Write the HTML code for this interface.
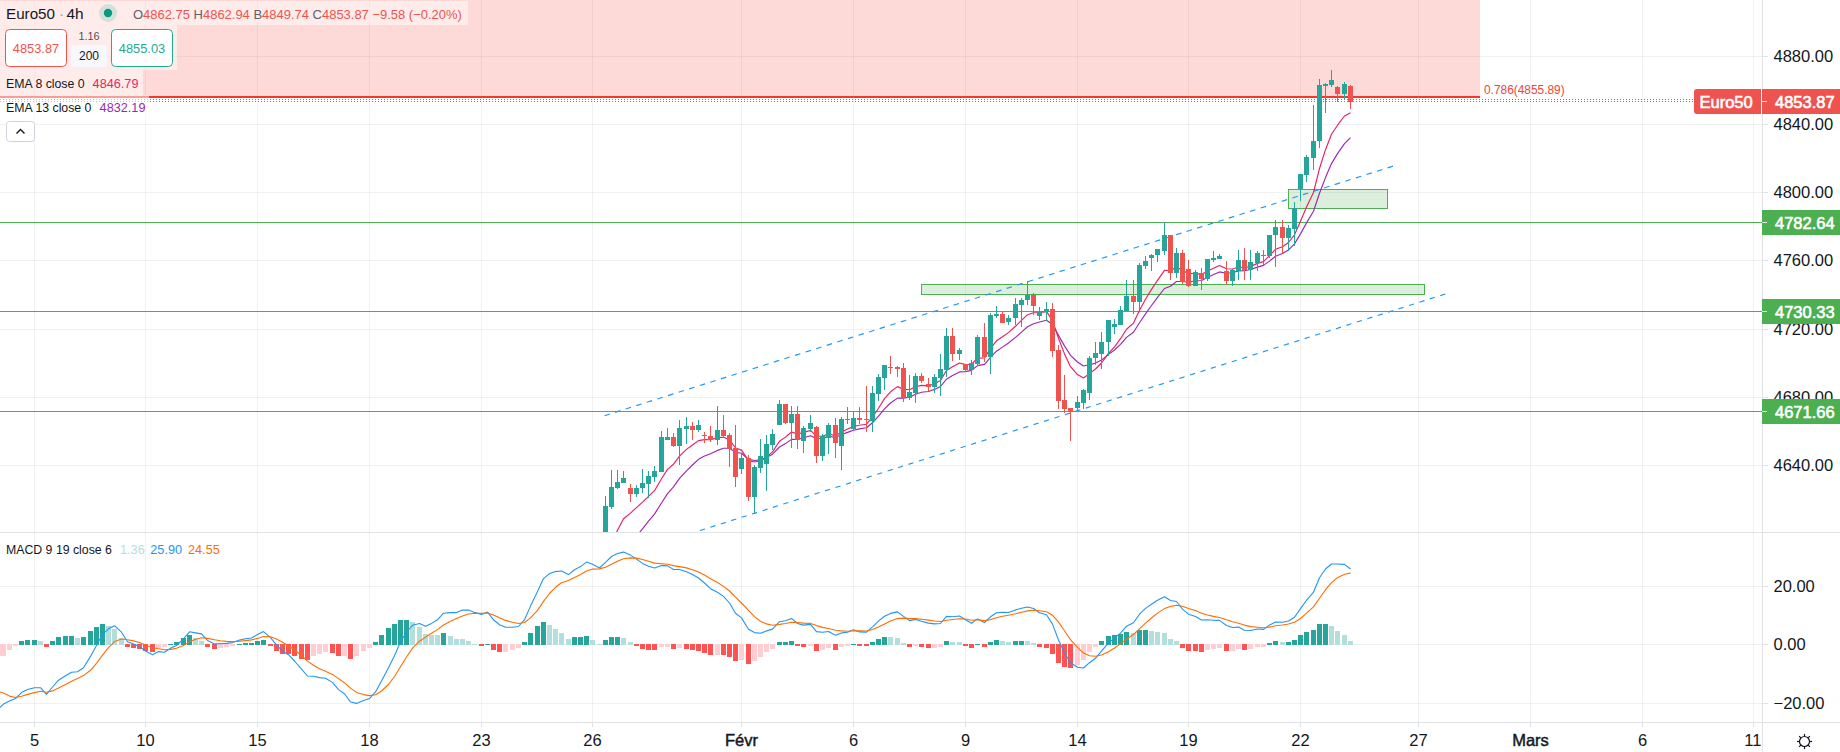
<!DOCTYPE html>
<html lang="fr"><head><meta charset="utf-8"><title>Euro50 4h</title>
<style>html,body{margin:0;padding:0;background:#fff;overflow:hidden}svg{display:block}</style></head>
<body>
<svg width="1840" height="752" viewBox="0 0 1840 752" font-family="'Liberation Sans', Arial, sans-serif">
<rect width="1840" height="752" fill="#fff"/>
<defs><clipPath id="cm"><rect x="0" y="0" width="1762" height="532"/></clipPath><clipPath id="ci"><rect x="0" y="533" width="1762" height="189"/></clipPath></defs>
<g shape-rendering="crispEdges" fill="#2a2e39" fill-opacity="0.065">
<rect x="34" y="0" width="1" height="532"/><rect x="34" y="533" width="1" height="189"/>
<rect x="145" y="0" width="1" height="532"/><rect x="145" y="533" width="1" height="189"/>
<rect x="257" y="0" width="1" height="532"/><rect x="257" y="533" width="1" height="189"/>
<rect x="369" y="0" width="1" height="532"/><rect x="369" y="533" width="1" height="189"/>
<rect x="481" y="0" width="1" height="532"/><rect x="481" y="533" width="1" height="189"/>
<rect x="592" y="0" width="1" height="532"/><rect x="592" y="533" width="1" height="189"/>
<rect x="741" y="0" width="1" height="532"/><rect x="741" y="533" width="1" height="189"/>
<rect x="853" y="0" width="1" height="532"/><rect x="853" y="533" width="1" height="189"/>
<rect x="965" y="0" width="1" height="532"/><rect x="965" y="533" width="1" height="189"/>
<rect x="1077" y="0" width="1" height="532"/><rect x="1077" y="533" width="1" height="189"/>
<rect x="1188" y="0" width="1" height="532"/><rect x="1188" y="533" width="1" height="189"/>
<rect x="1300" y="0" width="1" height="532"/><rect x="1300" y="533" width="1" height="189"/>
<rect x="1418" y="0" width="1" height="532"/><rect x="1418" y="533" width="1" height="189"/>
<rect x="1530" y="0" width="1" height="532"/><rect x="1530" y="533" width="1" height="189"/>
<rect x="1642" y="0" width="1" height="532"/><rect x="1642" y="533" width="1" height="189"/>
<rect x="1753" y="0" width="1" height="532"/><rect x="1753" y="533" width="1" height="189"/>
<rect x="0" y="56" width="1762" height="1"/>
<rect x="0" y="124" width="1762" height="1"/>
<rect x="0" y="192" width="1762" height="1"/>
<rect x="0" y="260" width="1762" height="1"/>
<rect x="0" y="329" width="1762" height="1"/>
<rect x="0" y="397" width="1762" height="1"/>
<rect x="0" y="465" width="1762" height="1"/>
<rect x="0" y="586" width="1762" height="1"/>
<rect x="0" y="644" width="1762" height="1"/>
<rect x="0" y="703" width="1762" height="1"/>
</g>
<g clip-path="url(#cm)">
<rect x="0" y="0" width="1480" height="96" fill="#f44336" fill-opacity="0.2" shape-rendering="crispEdges"/>
<rect x="0" y="96" width="1480" height="2" fill="#f23a2c" shape-rendering="crispEdges"/>
<text x="1484" y="94" font-size="11.9" fill="#f44336">0.786(4855.89)</text>
<rect x="0" y="222" width="1762" height="1" fill="#4caf50" shape-rendering="crispEdges"/>
<rect x="0" y="311" width="1762" height="1" fill="#4caf50" shape-rendering="crispEdges"/>
<rect x="0" y="411" width="1762" height="1" fill="#4caf50" shape-rendering="crispEdges"/>
<rect x="921.5" y="284.5" width="503" height="10" fill="#4caf50" fill-opacity="0.2" stroke="#4caf50" stroke-width="1"/>
<rect x="1288.5" y="189.5" width="99" height="19" fill="#4caf50" fill-opacity="0.2" stroke="#4caf50" stroke-width="1"/>
<g stroke="#2196f3" stroke-width="1.15" stroke-dasharray="5.6 5.5" fill="none">
<line x1="604.5" y1="415.7" x2="1394.2" y2="165.75"/>
<line x1="1445.3" y1="294" x2="665.7" y2="541.4" stroke-dasharray="5.3 5.64"/>
</g>
<polyline points="605.5,594.7 611.5,579.3 617.5,565.4 623.5,552.9 630.5,544.5 636.5,536.4 642.5,528.8 648.5,521.2 654.5,514.1 661.5,503.0 667.5,493.6 673.5,486.8 679.5,478.3 686.5,470.9 692.5,465.0 698.5,459.3 704.5,456.0 710.5,453.8 717.5,450.4 723.5,448.2 729.5,448.3 735.5,452.4 741.5,453.2 748.5,459.4 754.5,460.5 760.5,459.9 766.5,457.6 772.5,454.2 779.5,447.0 785.5,443.6 791.5,439.4 797.5,439.5 803.5,437.8 810.5,435.7 816.5,438.6 822.5,438.3 828.5,436.4 835.5,437.3 841.5,434.7 847.5,432.4 853.5,430.3 859.5,428.9 866.5,427.7 872.5,422.8 878.5,416.2 884.5,408.9 890.5,403.0 897.5,398.1 903.5,398.1 909.5,397.2 915.5,394.2 921.5,392.3 928.5,391.5 934.5,389.4 940.5,386.5 946.5,379.2 952.5,375.6 959.5,371.9 965.5,371.6 971.5,370.4 977.5,365.6 984.5,364.4 990.5,357.3 996.5,351.2 1002.5,347.1 1008.5,343.0 1015.5,337.4 1021.5,332.1 1027.5,326.7 1033.5,323.7 1039.5,322.0 1046.5,320.2 1052.5,324.5 1058.5,335.4 1064.5,345.9 1070.5,355.3 1077.5,362.0 1083.5,366.0 1089.5,364.8 1095.5,363.1 1101.5,360.1 1108.5,354.4 1114.5,350.0 1120.5,344.3 1126.5,337.4 1133.5,332.3 1139.5,322.7 1145.5,313.9 1151.5,305.5 1157.5,297.4 1164.5,288.5 1170.5,286.2 1176.5,281.5 1182.5,281.5 1188.5,282.2 1195.5,280.7 1201.5,280.5 1207.5,277.4 1213.5,274.6 1219.5,271.9 1226.5,273.2 1232.5,272.7 1238.5,270.9 1244.5,270.7 1250.5,269.5 1257.5,267.1 1263.5,265.4 1269.5,261.1 1275.5,256.2 1282.5,253.5 1288.5,249.9 1294.5,243.9 1300.5,233.9 1306.5,222.9 1313.5,211.2 1319.5,193.2 1325.5,177.6 1331.5,163.6 1337.5,153.6 1344.5,143.7 1350.5,137.7" fill="none" stroke="#9c27b0" stroke-width="1.15" stroke-linejoin="round"/>
<polyline points="605.5,560.4 611.5,544.1 617.5,530.3 623.5,518.7 630.5,513.1 636.5,507.6 642.5,502.1 648.5,496.3 654.5,490.7 661.5,478.7 667.5,469.4 673.5,464.2 679.5,456.1 686.5,449.4 692.5,445.0 698.5,440.6 704.5,439.6 710.5,439.8 717.5,437.6 723.5,437.2 729.5,439.7 735.5,448.0 741.5,450.1 748.5,460.6 754.5,462.0 760.5,460.7 766.5,457.0 772.5,451.9 779.5,441.2 785.5,437.1 791.5,432.0 797.5,433.9 803.5,432.5 810.5,430.4 816.5,436.1 822.5,436.2 828.5,433.7 835.5,435.7 841.5,431.9 847.5,429.0 853.5,426.5 859.5,425.2 866.5,424.2 872.5,417.2 878.5,408.2 884.5,398.6 890.5,391.8 897.5,386.6 903.5,389.2 909.5,389.8 915.5,386.8 921.5,385.4 928.5,385.7 934.5,383.7 940.5,380.4 946.5,370.5 952.5,366.7 959.5,363.0 965.5,364.6 971.5,364.2 977.5,358.2 984.5,357.9 990.5,348.4 996.5,340.8 1002.5,336.8 1008.5,332.6 1015.5,326.3 1021.5,320.4 1027.5,314.7 1033.5,312.7 1039.5,312.5 1046.5,311.7 1052.5,320.4 1058.5,338.2 1064.5,353.9 1070.5,366.7 1077.5,374.6 1083.5,378.0 1089.5,373.6 1095.5,369.0 1101.5,363.0 1108.5,353.4 1114.5,346.9 1120.5,338.7 1126.5,329.2 1133.5,323.1 1139.5,310.2 1145.5,299.2 1151.5,289.4 1157.5,280.4 1164.5,270.3 1170.5,270.8 1176.5,266.9 1182.5,270.2 1188.5,273.7 1195.5,273.3 1201.5,274.6 1207.5,271.1 1213.5,268.2 1219.5,265.4 1226.5,268.8 1232.5,269.0 1238.5,267.0 1244.5,267.7 1250.5,266.4 1257.5,263.4 1263.5,261.6 1269.5,255.7 1275.5,249.3 1282.5,246.7 1288.5,242.5 1294.5,234.8 1300.5,221.3 1306.5,207.0 1313.5,192.4 1319.5,168.5 1325.5,149.7 1331.5,134.2 1337.5,125.2 1344.5,116.0 1350.5,112.8" fill="none" stroke="#e91e63" stroke-width="1.15" stroke-linejoin="round"/>
<g shape-rendering="crispEdges">
<rect x="605" y="496" width="1" height="49" fill="#26a69a"/><rect x="603" y="506" width="5" height="34" fill="#26a69a"/>
<rect x="611" y="470" width="1" height="39" fill="#26a69a"/><rect x="609" y="487" width="5" height="20" fill="#26a69a"/>
<rect x="617" y="470" width="1" height="19" fill="#26a69a"/><rect x="615" y="482" width="5" height="6" fill="#26a69a"/>
<rect x="623" y="471" width="1" height="12" fill="#26a69a"/><rect x="621" y="478" width="5" height="5" fill="#26a69a"/>
<rect x="630" y="484" width="1" height="18" fill="#ef5350"/><rect x="628" y="488" width="5" height="6" fill="#ef5350"/>
<rect x="636" y="485" width="1" height="12" fill="#26a69a"/><rect x="634" y="488" width="5" height="6" fill="#26a69a"/>
<rect x="642" y="469" width="1" height="24" fill="#26a69a"/><rect x="640" y="483" width="5" height="5" fill="#26a69a"/>
<rect x="648" y="471" width="1" height="27" fill="#26a69a"/><rect x="646" y="476" width="5" height="8" fill="#26a69a"/>
<rect x="654" y="466" width="1" height="16" fill="#26a69a"/><rect x="652" y="471" width="5" height="6" fill="#26a69a"/>
<rect x="661" y="431" width="1" height="41" fill="#26a69a"/><rect x="659" y="437" width="5" height="35" fill="#26a69a"/>
<rect x="667" y="428" width="1" height="12" fill="#26a69a"/><rect x="665" y="437" width="5" height="3" fill="#26a69a"/>
<rect x="673" y="433" width="1" height="14" fill="#ef5350"/><rect x="671" y="437" width="5" height="9" fill="#ef5350"/>
<rect x="679" y="420" width="1" height="45" fill="#26a69a"/><rect x="677" y="428" width="5" height="18" fill="#26a69a"/>
<rect x="686" y="417" width="1" height="27" fill="#26a69a"/><rect x="684" y="426" width="5" height="3" fill="#26a69a"/>
<rect x="692" y="422" width="1" height="18" fill="#ef5350"/><rect x="690" y="426" width="5" height="4" fill="#ef5350"/>
<rect x="698" y="420" width="1" height="12" fill="#26a69a"/><rect x="696" y="425" width="5" height="5" fill="#26a69a"/>
<rect x="704" y="432" width="1" height="11" fill="#ef5350"/><rect x="702" y="435" width="5" height="1" fill="#ef5350"/>
<rect x="710" y="426" width="1" height="16" fill="#ef5350"/><rect x="708" y="436" width="5" height="4" fill="#ef5350"/>
<rect x="717" y="406" width="1" height="39" fill="#26a69a"/><rect x="715" y="430" width="5" height="10" fill="#26a69a"/>
<rect x="723" y="415" width="1" height="23" fill="#ef5350"/><rect x="721" y="430" width="5" height="6" fill="#ef5350"/>
<rect x="729" y="433" width="1" height="34" fill="#ef5350"/><rect x="727" y="435" width="5" height="14" fill="#ef5350"/>
<rect x="735" y="425" width="1" height="62" fill="#ef5350"/><rect x="733" y="448" width="5" height="29" fill="#ef5350"/>
<rect x="741" y="453" width="1" height="21" fill="#26a69a"/><rect x="739" y="458" width="5" height="11" fill="#26a69a"/>
<rect x="748" y="455" width="1" height="46" fill="#ef5350"/><rect x="746" y="458" width="5" height="39" fill="#ef5350"/>
<rect x="754" y="465" width="1" height="49" fill="#26a69a"/><rect x="752" y="467" width="5" height="30" fill="#26a69a"/>
<rect x="760" y="439" width="1" height="34" fill="#26a69a"/><rect x="758" y="456" width="5" height="12" fill="#26a69a"/>
<rect x="766" y="435" width="1" height="56" fill="#26a69a"/><rect x="764" y="444" width="5" height="20" fill="#26a69a"/>
<rect x="772" y="429" width="1" height="21" fill="#26a69a"/><rect x="770" y="434" width="5" height="11" fill="#26a69a"/>
<rect x="779" y="400" width="1" height="25" fill="#26a69a"/><rect x="777" y="404" width="5" height="21" fill="#26a69a"/>
<rect x="785" y="404" width="1" height="20" fill="#ef5350"/><rect x="783" y="404" width="5" height="19" fill="#ef5350"/>
<rect x="791" y="406" width="1" height="42" fill="#26a69a"/><rect x="789" y="414" width="5" height="9" fill="#26a69a"/>
<rect x="797" y="406" width="1" height="43" fill="#ef5350"/><rect x="795" y="414" width="5" height="26" fill="#ef5350"/>
<rect x="803" y="426" width="1" height="27" fill="#26a69a"/><rect x="801" y="428" width="5" height="13" fill="#26a69a"/>
<rect x="810" y="415" width="1" height="17" fill="#26a69a"/><rect x="808" y="423" width="5" height="6" fill="#26a69a"/>
<rect x="816" y="426" width="1" height="37" fill="#ef5350"/><rect x="814" y="427" width="5" height="29" fill="#ef5350"/>
<rect x="822" y="434" width="1" height="27" fill="#26a69a"/><rect x="820" y="436" width="5" height="20" fill="#26a69a"/>
<rect x="828" y="423" width="1" height="31" fill="#26a69a"/><rect x="826" y="425" width="5" height="13" fill="#26a69a"/>
<rect x="835" y="418" width="1" height="40" fill="#ef5350"/><rect x="833" y="425" width="5" height="18" fill="#ef5350"/>
<rect x="841" y="417" width="1" height="53" fill="#26a69a"/><rect x="839" y="419" width="5" height="27" fill="#26a69a"/>
<rect x="847" y="407" width="1" height="17" fill="#26a69a"/><rect x="845" y="419" width="5" height="1" fill="#26a69a"/>
<rect x="853" y="411" width="1" height="19" fill="#26a69a"/><rect x="851" y="418" width="5" height="11" fill="#26a69a"/>
<rect x="859" y="407" width="1" height="17" fill="#ef5350"/><rect x="857" y="418" width="5" height="2" fill="#ef5350"/>
<rect x="866" y="386" width="1" height="46" fill="#ef5350"/><rect x="864" y="419" width="5" height="1" fill="#ef5350"/>
<rect x="872" y="386" width="1" height="46" fill="#26a69a"/><rect x="870" y="393" width="5" height="28" fill="#26a69a"/>
<rect x="878" y="374" width="1" height="27" fill="#26a69a"/><rect x="876" y="377" width="5" height="17" fill="#26a69a"/>
<rect x="884" y="365" width="1" height="25" fill="#26a69a"/><rect x="882" y="365" width="5" height="13" fill="#26a69a"/>
<rect x="890" y="356" width="1" height="18" fill="#ef5350"/><rect x="888" y="367" width="5" height="1" fill="#ef5350"/>
<rect x="897" y="366" width="1" height="11" fill="#ef5350"/><rect x="895" y="367" width="5" height="2" fill="#ef5350"/>
<rect x="903" y="363" width="1" height="39" fill="#ef5350"/><rect x="901" y="368" width="5" height="30" fill="#ef5350"/>
<rect x="909" y="375" width="1" height="25" fill="#26a69a"/><rect x="907" y="392" width="5" height="6" fill="#26a69a"/>
<rect x="915" y="373" width="1" height="30" fill="#26a69a"/><rect x="913" y="376" width="5" height="17" fill="#26a69a"/>
<rect x="921" y="373" width="1" height="10" fill="#ef5350"/><rect x="919" y="376" width="5" height="5" fill="#ef5350"/>
<rect x="928" y="378" width="1" height="13" fill="#ef5350"/><rect x="926" y="384" width="5" height="3" fill="#ef5350"/>
<rect x="934" y="374" width="1" height="19" fill="#26a69a"/><rect x="932" y="377" width="5" height="10" fill="#26a69a"/>
<rect x="940" y="354" width="1" height="42" fill="#26a69a"/><rect x="938" y="369" width="5" height="9" fill="#26a69a"/>
<rect x="946" y="328" width="1" height="49" fill="#26a69a"/><rect x="944" y="336" width="5" height="34" fill="#26a69a"/>
<rect x="952" y="328" width="1" height="33" fill="#ef5350"/><rect x="950" y="336" width="5" height="18" fill="#ef5350"/>
<rect x="959" y="348" width="1" height="12" fill="#26a69a"/><rect x="957" y="350" width="5" height="4" fill="#26a69a"/>
<rect x="965" y="364" width="1" height="8" fill="#ef5350"/><rect x="963" y="364" width="5" height="6" fill="#ef5350"/>
<rect x="971" y="360" width="1" height="15" fill="#26a69a"/><rect x="969" y="363" width="5" height="7" fill="#26a69a"/>
<rect x="977" y="335" width="1" height="31" fill="#26a69a"/><rect x="975" y="337" width="5" height="27" fill="#26a69a"/>
<rect x="984" y="323" width="1" height="39" fill="#ef5350"/><rect x="982" y="337" width="5" height="20" fill="#ef5350"/>
<rect x="990" y="313" width="1" height="61" fill="#26a69a"/><rect x="988" y="315" width="5" height="42" fill="#26a69a"/>
<rect x="996" y="306" width="1" height="12" fill="#26a69a"/><rect x="994" y="314" width="5" height="2" fill="#26a69a"/>
<rect x="1002" y="312" width="1" height="11" fill="#ef5350"/><rect x="1000" y="314" width="5" height="9" fill="#ef5350"/>
<rect x="1008" y="315" width="1" height="10" fill="#26a69a"/><rect x="1006" y="318" width="5" height="4" fill="#26a69a"/>
<rect x="1015" y="298" width="1" height="27" fill="#26a69a"/><rect x="1013" y="304" width="5" height="14" fill="#26a69a"/>
<rect x="1021" y="298" width="1" height="29" fill="#26a69a"/><rect x="1019" y="300" width="5" height="5" fill="#26a69a"/>
<rect x="1027" y="281" width="1" height="24" fill="#26a69a"/><rect x="1025" y="295" width="5" height="5" fill="#26a69a"/>
<rect x="1033" y="293" width="1" height="22" fill="#ef5350"/><rect x="1031" y="295" width="5" height="11" fill="#ef5350"/>
<rect x="1039" y="307" width="1" height="13" fill="#26a69a"/><rect x="1037" y="312" width="5" height="4" fill="#26a69a"/>
<rect x="1046" y="302" width="1" height="19" fill="#26a69a"/><rect x="1044" y="309" width="5" height="3" fill="#26a69a"/>
<rect x="1052" y="303" width="1" height="54" fill="#ef5350"/><rect x="1050" y="309" width="5" height="42" fill="#ef5350"/>
<rect x="1058" y="345" width="1" height="64" fill="#ef5350"/><rect x="1056" y="350" width="5" height="51" fill="#ef5350"/>
<rect x="1064" y="375" width="1" height="38" fill="#ef5350"/><rect x="1062" y="400" width="5" height="9" fill="#ef5350"/>
<rect x="1070" y="408" width="1" height="33" fill="#ef5350"/><rect x="1068" y="408" width="5" height="4" fill="#ef5350"/>
<rect x="1077" y="396" width="1" height="15" fill="#26a69a"/><rect x="1075" y="402" width="5" height="6" fill="#26a69a"/>
<rect x="1083" y="389" width="1" height="20" fill="#26a69a"/><rect x="1081" y="390" width="5" height="13" fill="#26a69a"/>
<rect x="1089" y="356" width="1" height="44" fill="#26a69a"/><rect x="1087" y="358" width="5" height="35" fill="#26a69a"/>
<rect x="1095" y="342" width="1" height="23" fill="#26a69a"/><rect x="1093" y="353" width="5" height="5" fill="#26a69a"/>
<rect x="1101" y="332" width="1" height="37" fill="#26a69a"/><rect x="1099" y="342" width="5" height="12" fill="#26a69a"/>
<rect x="1108" y="320" width="1" height="36" fill="#26a69a"/><rect x="1106" y="320" width="5" height="22" fill="#26a69a"/>
<rect x="1114" y="319" width="1" height="15" fill="#26a69a"/><rect x="1112" y="324" width="5" height="3" fill="#26a69a"/>
<rect x="1120" y="306" width="1" height="19" fill="#26a69a"/><rect x="1118" y="310" width="5" height="15" fill="#26a69a"/>
<rect x="1126" y="280" width="1" height="31" fill="#26a69a"/><rect x="1124" y="296" width="5" height="15" fill="#26a69a"/>
<rect x="1133" y="280" width="1" height="34" fill="#ef5350"/><rect x="1131" y="296" width="5" height="6" fill="#ef5350"/>
<rect x="1139" y="263" width="1" height="47" fill="#26a69a"/><rect x="1137" y="265" width="5" height="37" fill="#26a69a"/>
<rect x="1145" y="256" width="1" height="13" fill="#26a69a"/><rect x="1143" y="261" width="5" height="5" fill="#26a69a"/>
<rect x="1151" y="254" width="1" height="17" fill="#26a69a"/><rect x="1149" y="255" width="5" height="3" fill="#26a69a"/>
<rect x="1157" y="249" width="1" height="13" fill="#26a69a"/><rect x="1155" y="249" width="5" height="6" fill="#26a69a"/>
<rect x="1164" y="222" width="1" height="33" fill="#26a69a"/><rect x="1162" y="235" width="5" height="16" fill="#26a69a"/>
<rect x="1170" y="235" width="1" height="45" fill="#ef5350"/><rect x="1168" y="235" width="5" height="38" fill="#ef5350"/>
<rect x="1176" y="248" width="1" height="30" fill="#26a69a"/><rect x="1174" y="253" width="5" height="20" fill="#26a69a"/>
<rect x="1182" y="250" width="1" height="34" fill="#ef5350"/><rect x="1180" y="253" width="5" height="29" fill="#ef5350"/>
<rect x="1188" y="260" width="1" height="27" fill="#ef5350"/><rect x="1186" y="269" width="5" height="17" fill="#ef5350"/>
<rect x="1195" y="270" width="1" height="16" fill="#26a69a"/><rect x="1193" y="272" width="5" height="14" fill="#26a69a"/>
<rect x="1201" y="268" width="1" height="22" fill="#ef5350"/><rect x="1199" y="273" width="5" height="6" fill="#ef5350"/>
<rect x="1207" y="259" width="1" height="22" fill="#26a69a"/><rect x="1205" y="259" width="5" height="20" fill="#26a69a"/>
<rect x="1213" y="251" width="1" height="11" fill="#26a69a"/><rect x="1211" y="258" width="5" height="2" fill="#26a69a"/>
<rect x="1219" y="254" width="1" height="5" fill="#26a69a"/><rect x="1217" y="256" width="5" height="3" fill="#26a69a"/>
<rect x="1226" y="261" width="1" height="24" fill="#ef5350"/><rect x="1224" y="271" width="5" height="10" fill="#ef5350"/>
<rect x="1232" y="269" width="1" height="17" fill="#26a69a"/><rect x="1230" y="270" width="5" height="11" fill="#26a69a"/>
<rect x="1238" y="250" width="1" height="30" fill="#26a69a"/><rect x="1236" y="260" width="5" height="11" fill="#26a69a"/>
<rect x="1244" y="248" width="1" height="32" fill="#ef5350"/><rect x="1242" y="260" width="5" height="10" fill="#ef5350"/>
<rect x="1250" y="250" width="1" height="30" fill="#26a69a"/><rect x="1248" y="262" width="5" height="8" fill="#26a69a"/>
<rect x="1257" y="251" width="1" height="20" fill="#26a69a"/><rect x="1255" y="253" width="5" height="10" fill="#26a69a"/>
<rect x="1263" y="250" width="1" height="15" fill="#26a69a"/><rect x="1261" y="255" width="5" height="1" fill="#26a69a"/>
<rect x="1269" y="235" width="1" height="23" fill="#26a69a"/><rect x="1267" y="235" width="5" height="21" fill="#26a69a"/>
<rect x="1275" y="220" width="1" height="47" fill="#26a69a"/><rect x="1273" y="227" width="5" height="8" fill="#26a69a"/>
<rect x="1282" y="220" width="1" height="33" fill="#ef5350"/><rect x="1280" y="227" width="5" height="11" fill="#ef5350"/>
<rect x="1288" y="225" width="1" height="26" fill="#26a69a"/><rect x="1286" y="228" width="5" height="10" fill="#26a69a"/>
<rect x="1294" y="202" width="1" height="44" fill="#26a69a"/><rect x="1292" y="208" width="5" height="21" fill="#26a69a"/>
<rect x="1300" y="174" width="1" height="27" fill="#26a69a"/><rect x="1298" y="174" width="5" height="15" fill="#26a69a"/>
<rect x="1306" y="155" width="1" height="27" fill="#26a69a"/><rect x="1304" y="157" width="5" height="18" fill="#26a69a"/>
<rect x="1313" y="105" width="1" height="65" fill="#26a69a"/><rect x="1311" y="141" width="5" height="17" fill="#26a69a"/>
<rect x="1319" y="79" width="1" height="69" fill="#26a69a"/><rect x="1317" y="85" width="5" height="56" fill="#26a69a"/>
<rect x="1325" y="83" width="1" height="30" fill="#26a69a"/><rect x="1323" y="84" width="5" height="2" fill="#26a69a"/>
<rect x="1331" y="70" width="1" height="17" fill="#26a69a"/><rect x="1329" y="80" width="5" height="5" fill="#26a69a"/>
<rect x="1337" y="86" width="1" height="16" fill="#ef5350"/><rect x="1335" y="87" width="5" height="7" fill="#ef5350"/>
<rect x="1344" y="82" width="1" height="17" fill="#26a69a"/><rect x="1342" y="84" width="5" height="10" fill="#26a69a"/>
<rect x="1350" y="85" width="1" height="24" fill="#ef5350"/><rect x="1348" y="86" width="5" height="16" fill="#ef5350"/>
</g>
<g shape-rendering="crispEdges" fill="none" stroke-width="1" stroke-dasharray="1 2">
<line x1="0" y1="99.5" x2="1694" y2="99.5" stroke="#ef5350"/>
<line x1="0" y1="101.5" x2="1694" y2="101.5" stroke="#2196f3"/>
</g>
</g>
<g clip-path="url(#ci)">
<g shape-rendering="crispEdges">
<rect x="0" y="644" width="6" height="12" fill="#ffcdd2"/>
<rect x="7" y="644" width="5" height="6" fill="#ffcdd2"/>
<rect x="13" y="644" width="5" height="2" fill="#ffcdd2"/>
<rect x="19" y="641" width="5" height="4" fill="#26a69a"/>
<rect x="25" y="640" width="5" height="5" fill="#26a69a"/>
<rect x="32" y="640" width="5" height="5" fill="#26a69a"/>
<rect x="38" y="641" width="5" height="4" fill="#b2dfdb"/>
<rect x="44" y="644" width="5" height="3" fill="#ff5252"/>
<rect x="50" y="641" width="5" height="4" fill="#26a69a"/>
<rect x="56" y="637" width="5" height="8" fill="#26a69a"/>
<rect x="63" y="636" width="5" height="9" fill="#26a69a"/>
<rect x="69" y="636" width="5" height="9" fill="#26a69a"/>
<rect x="75" y="638" width="5" height="7" fill="#b2dfdb"/>
<rect x="81" y="637" width="5" height="8" fill="#26a69a"/>
<rect x="88" y="631" width="5" height="14" fill="#26a69a"/>
<rect x="94" y="627" width="5" height="18" fill="#26a69a"/>
<rect x="100" y="624" width="5" height="21" fill="#26a69a"/>
<rect x="106" y="626" width="5" height="19" fill="#b2dfdb"/>
<rect x="112" y="629" width="5" height="16" fill="#b2dfdb"/>
<rect x="119" y="638" width="5" height="7" fill="#b2dfdb"/>
<rect x="125" y="644" width="5" height="3" fill="#ff5252"/>
<rect x="131" y="644" width="5" height="4" fill="#ff5252"/>
<rect x="137" y="644" width="5" height="5" fill="#ff5252"/>
<rect x="143" y="644" width="5" height="7" fill="#ff5252"/>
<rect x="150" y="644" width="5" height="8" fill="#ff5252"/>
<rect x="156" y="644" width="5" height="4" fill="#ffcdd2"/>
<rect x="162" y="644" width="5" height="3" fill="#ffcdd2"/>
<rect x="168" y="644" width="5" height="1" fill="#26a69a"/>
<rect x="174" y="642" width="5" height="3" fill="#26a69a"/>
<rect x="181" y="638" width="5" height="7" fill="#26a69a"/>
<rect x="187" y="635" width="5" height="10" fill="#26a69a"/>
<rect x="193" y="638" width="5" height="7" fill="#b2dfdb"/>
<rect x="199" y="641" width="5" height="4" fill="#b2dfdb"/>
<rect x="205" y="644" width="5" height="3" fill="#ff5252"/>
<rect x="212" y="644" width="5" height="5" fill="#ff5252"/>
<rect x="218" y="644" width="5" height="4" fill="#ffcdd2"/>
<rect x="224" y="644" width="5" height="3" fill="#ffcdd2"/>
<rect x="230" y="644" width="5" height="2" fill="#ffcdd2"/>
<rect x="237" y="644" width="5" height="1" fill="#26a69a"/>
<rect x="243" y="643" width="5" height="2" fill="#26a69a"/>
<rect x="249" y="643" width="5" height="2" fill="#26a69a"/>
<rect x="255" y="641" width="5" height="4" fill="#26a69a"/>
<rect x="261" y="640" width="5" height="5" fill="#26a69a"/>
<rect x="268" y="644" width="5" height="2" fill="#ff5252"/>
<rect x="274" y="644" width="5" height="7" fill="#ff5252"/>
<rect x="280" y="644" width="5" height="10" fill="#ff5252"/>
<rect x="286" y="644" width="5" height="10" fill="#ff5252"/>
<rect x="292" y="644" width="5" height="12" fill="#ff5252"/>
<rect x="299" y="644" width="5" height="15" fill="#ff5252"/>
<rect x="305" y="644" width="5" height="16" fill="#ff5252"/>
<rect x="311" y="644" width="5" height="12" fill="#ffcdd2"/>
<rect x="317" y="644" width="5" height="10" fill="#ffcdd2"/>
<rect x="323" y="644" width="5" height="8" fill="#ffcdd2"/>
<rect x="330" y="644" width="5" height="9" fill="#ff5252"/>
<rect x="336" y="644" width="5" height="12" fill="#ff5252"/>
<rect x="342" y="644" width="5" height="12" fill="#ffcdd2"/>
<rect x="348" y="644" width="5" height="15" fill="#ff5252"/>
<rect x="354" y="644" width="5" height="12" fill="#ffcdd2"/>
<rect x="361" y="644" width="5" height="7" fill="#ffcdd2"/>
<rect x="367" y="644" width="5" height="4" fill="#ffcdd2"/>
<rect x="373" y="642" width="5" height="3" fill="#26a69a"/>
<rect x="379" y="635" width="5" height="10" fill="#26a69a"/>
<rect x="386" y="628" width="5" height="17" fill="#26a69a"/>
<rect x="392" y="624" width="5" height="21" fill="#26a69a"/>
<rect x="398" y="620" width="5" height="25" fill="#26a69a"/>
<rect x="404" y="620" width="5" height="25" fill="#26a69a"/>
<rect x="410" y="622" width="5" height="23" fill="#b2dfdb"/>
<rect x="417" y="627" width="5" height="18" fill="#b2dfdb"/>
<rect x="423" y="634" width="5" height="11" fill="#b2dfdb"/>
<rect x="429" y="635" width="5" height="10" fill="#b2dfdb"/>
<rect x="435" y="635" width="5" height="10" fill="#b2dfdb"/>
<rect x="441" y="633" width="5" height="12" fill="#26a69a"/>
<rect x="448" y="636" width="5" height="9" fill="#b2dfdb"/>
<rect x="454" y="639" width="5" height="6" fill="#b2dfdb"/>
<rect x="460" y="639" width="5" height="6" fill="#b2dfdb"/>
<rect x="466" y="641" width="5" height="4" fill="#b2dfdb"/>
<rect x="472" y="644" width="5" height="1" fill="#b2dfdb"/>
<rect x="479" y="644" width="5" height="2" fill="#ff5252"/>
<rect x="485" y="644" width="5" height="1" fill="#26a69a"/>
<rect x="491" y="644" width="5" height="6" fill="#ff5252"/>
<rect x="497" y="644" width="5" height="8" fill="#ff5252"/>
<rect x="503" y="644" width="5" height="8" fill="#ffcdd2"/>
<rect x="510" y="644" width="5" height="6" fill="#ffcdd2"/>
<rect x="516" y="644" width="5" height="4" fill="#ffcdd2"/>
<rect x="522" y="642" width="5" height="3" fill="#26a69a"/>
<rect x="528" y="633" width="5" height="12" fill="#26a69a"/>
<rect x="535" y="626" width="5" height="19" fill="#26a69a"/>
<rect x="541" y="622" width="5" height="23" fill="#26a69a"/>
<rect x="547" y="625" width="5" height="20" fill="#b2dfdb"/>
<rect x="553" y="629" width="5" height="16" fill="#b2dfdb"/>
<rect x="559" y="633" width="5" height="12" fill="#b2dfdb"/>
<rect x="566" y="639" width="5" height="6" fill="#b2dfdb"/>
<rect x="572" y="637" width="5" height="8" fill="#26a69a"/>
<rect x="578" y="637" width="5" height="8" fill="#26a69a"/>
<rect x="584" y="636" width="5" height="9" fill="#26a69a"/>
<rect x="590" y="640" width="5" height="5" fill="#b2dfdb"/>
<rect x="597" y="644" width="5" height="1" fill="#b2dfdb"/>
<rect x="603" y="640" width="5" height="5" fill="#26a69a"/>
<rect x="609" y="637" width="5" height="8" fill="#26a69a"/>
<rect x="615" y="637" width="5" height="8" fill="#26a69a"/>
<rect x="621" y="638" width="5" height="7" fill="#b2dfdb"/>
<rect x="628" y="642" width="5" height="3" fill="#b2dfdb"/>
<rect x="634" y="644" width="5" height="2" fill="#ff5252"/>
<rect x="640" y="644" width="5" height="5" fill="#ff5252"/>
<rect x="646" y="644" width="5" height="6" fill="#ff5252"/>
<rect x="652" y="644" width="5" height="6" fill="#ff5252"/>
<rect x="659" y="644" width="5" height="3" fill="#ffcdd2"/>
<rect x="665" y="644" width="5" height="3" fill="#ffcdd2"/>
<rect x="671" y="644" width="5" height="5" fill="#ff5252"/>
<rect x="677" y="644" width="5" height="4" fill="#ffcdd2"/>
<rect x="684" y="644" width="5" height="5" fill="#ff5252"/>
<rect x="690" y="644" width="5" height="6" fill="#ff5252"/>
<rect x="696" y="644" width="5" height="7" fill="#ff5252"/>
<rect x="702" y="644" width="5" height="9" fill="#ff5252"/>
<rect x="708" y="644" width="5" height="11" fill="#ff5252"/>
<rect x="715" y="644" width="5" height="11" fill="#ffcdd2"/>
<rect x="721" y="644" width="5" height="11" fill="#ff5252"/>
<rect x="727" y="644" width="5" height="13" fill="#ff5252"/>
<rect x="733" y="644" width="5" height="17" fill="#ff5252"/>
<rect x="739" y="644" width="5" height="16" fill="#ffcdd2"/>
<rect x="746" y="644" width="5" height="20" fill="#ff5252"/>
<rect x="752" y="644" width="5" height="17" fill="#ffcdd2"/>
<rect x="758" y="644" width="5" height="13" fill="#ffcdd2"/>
<rect x="764" y="644" width="5" height="8" fill="#ffcdd2"/>
<rect x="770" y="644" width="5" height="5" fill="#ffcdd2"/>
<rect x="777" y="642" width="5" height="3" fill="#26a69a"/>
<rect x="783" y="642" width="5" height="3" fill="#26a69a"/>
<rect x="789" y="641" width="5" height="4" fill="#26a69a"/>
<rect x="795" y="644" width="5" height="2" fill="#ff5252"/>
<rect x="801" y="644" width="5" height="3" fill="#ff5252"/>
<rect x="808" y="644" width="5" height="2" fill="#ffcdd2"/>
<rect x="814" y="644" width="5" height="7" fill="#ff5252"/>
<rect x="820" y="644" width="5" height="6" fill="#ffcdd2"/>
<rect x="826" y="644" width="5" height="4" fill="#ffcdd2"/>
<rect x="833" y="644" width="5" height="6" fill="#ff5252"/>
<rect x="839" y="644" width="5" height="3" fill="#ffcdd2"/>
<rect x="845" y="644" width="5" height="2" fill="#ffcdd2"/>
<rect x="851" y="644" width="5" height="1" fill="#26a69a"/>
<rect x="857" y="644" width="5" height="2" fill="#ff5252"/>
<rect x="864" y="644" width="5" height="2" fill="#ff5252"/>
<rect x="870" y="642" width="5" height="3" fill="#26a69a"/>
<rect x="876" y="639" width="5" height="6" fill="#26a69a"/>
<rect x="882" y="637" width="5" height="8" fill="#26a69a"/>
<rect x="888" y="637" width="5" height="8" fill="#b2dfdb"/>
<rect x="895" y="638" width="5" height="7" fill="#b2dfdb"/>
<rect x="901" y="643" width="5" height="2" fill="#b2dfdb"/>
<rect x="907" y="644" width="5" height="3" fill="#ff5252"/>
<rect x="913" y="644" width="5" height="2" fill="#ffcdd2"/>
<rect x="919" y="644" width="5" height="3" fill="#ff5252"/>
<rect x="926" y="644" width="5" height="4" fill="#ff5252"/>
<rect x="932" y="644" width="5" height="4" fill="#ffcdd2"/>
<rect x="938" y="644" width="5" height="3" fill="#ffcdd2"/>
<rect x="944" y="641" width="5" height="4" fill="#26a69a"/>
<rect x="950" y="642" width="5" height="3" fill="#b2dfdb"/>
<rect x="957" y="642" width="5" height="3" fill="#b2dfdb"/>
<rect x="963" y="644" width="5" height="2" fill="#ff5252"/>
<rect x="969" y="644" width="5" height="4" fill="#ff5252"/>
<rect x="975" y="644" width="5" height="1" fill="#26a69a"/>
<rect x="982" y="644" width="5" height="3" fill="#ff5252"/>
<rect x="988" y="642" width="5" height="3" fill="#26a69a"/>
<rect x="994" y="640" width="5" height="5" fill="#26a69a"/>
<rect x="1000" y="641" width="5" height="4" fill="#b2dfdb"/>
<rect x="1006" y="642" width="5" height="3" fill="#b2dfdb"/>
<rect x="1013" y="641" width="5" height="4" fill="#26a69a"/>
<rect x="1019" y="641" width="5" height="4" fill="#26a69a"/>
<rect x="1025" y="641" width="5" height="4" fill="#b2dfdb"/>
<rect x="1031" y="643" width="5" height="2" fill="#b2dfdb"/>
<rect x="1037" y="644" width="5" height="3" fill="#ff5252"/>
<rect x="1044" y="644" width="5" height="4" fill="#ff5252"/>
<rect x="1050" y="644" width="5" height="10" fill="#ff5252"/>
<rect x="1056" y="644" width="5" height="19" fill="#ff5252"/>
<rect x="1062" y="644" width="5" height="23" fill="#ff5252"/>
<rect x="1068" y="644" width="5" height="24" fill="#ff5252"/>
<rect x="1075" y="644" width="5" height="21" fill="#ffcdd2"/>
<rect x="1081" y="644" width="5" height="16" fill="#ffcdd2"/>
<rect x="1087" y="644" width="5" height="8" fill="#ffcdd2"/>
<rect x="1093" y="644" width="5" height="3" fill="#ffcdd2"/>
<rect x="1099" y="641" width="5" height="4" fill="#26a69a"/>
<rect x="1106" y="636" width="5" height="9" fill="#26a69a"/>
<rect x="1112" y="635" width="5" height="10" fill="#26a69a"/>
<rect x="1118" y="634" width="5" height="11" fill="#26a69a"/>
<rect x="1124" y="632" width="5" height="13" fill="#26a69a"/>
<rect x="1131" y="633" width="5" height="12" fill="#b2dfdb"/>
<rect x="1137" y="630" width="5" height="15" fill="#26a69a"/>
<rect x="1143" y="630" width="5" height="15" fill="#26a69a"/>
<rect x="1149" y="631" width="5" height="14" fill="#b2dfdb"/>
<rect x="1155" y="632" width="5" height="13" fill="#b2dfdb"/>
<rect x="1162" y="633" width="5" height="12" fill="#b2dfdb"/>
<rect x="1168" y="639" width="5" height="6" fill="#b2dfdb"/>
<rect x="1174" y="641" width="5" height="4" fill="#b2dfdb"/>
<rect x="1180" y="644" width="5" height="4" fill="#ff5252"/>
<rect x="1186" y="644" width="5" height="7" fill="#ff5252"/>
<rect x="1193" y="644" width="5" height="7" fill="#ff5252"/>
<rect x="1199" y="644" width="5" height="8" fill="#ff5252"/>
<rect x="1205" y="644" width="5" height="6" fill="#ffcdd2"/>
<rect x="1211" y="644" width="5" height="5" fill="#ffcdd2"/>
<rect x="1217" y="644" width="5" height="4" fill="#ffcdd2"/>
<rect x="1224" y="644" width="5" height="7" fill="#ff5252"/>
<rect x="1230" y="644" width="5" height="7" fill="#ffcdd2"/>
<rect x="1236" y="644" width="5" height="5" fill="#ffcdd2"/>
<rect x="1242" y="644" width="5" height="6" fill="#ff5252"/>
<rect x="1248" y="644" width="5" height="5" fill="#ffcdd2"/>
<rect x="1255" y="644" width="5" height="3" fill="#ffcdd2"/>
<rect x="1261" y="644" width="5" height="3" fill="#ffcdd2"/>
<rect x="1267" y="643" width="5" height="2" fill="#26a69a"/>
<rect x="1273" y="641" width="5" height="4" fill="#26a69a"/>
<rect x="1280" y="642" width="5" height="3" fill="#b2dfdb"/>
<rect x="1286" y="642" width="5" height="3" fill="#26a69a"/>
<rect x="1292" y="640" width="5" height="5" fill="#26a69a"/>
<rect x="1298" y="635" width="5" height="10" fill="#26a69a"/>
<rect x="1304" y="632" width="5" height="13" fill="#26a69a"/>
<rect x="1311" y="630" width="5" height="15" fill="#26a69a"/>
<rect x="1317" y="624" width="5" height="21" fill="#26a69a"/>
<rect x="1323" y="624" width="5" height="21" fill="#26a69a"/>
<rect x="1329" y="626" width="5" height="19" fill="#b2dfdb"/>
<rect x="1335" y="631" width="5" height="14" fill="#b2dfdb"/>
<rect x="1342" y="635" width="5" height="10" fill="#b2dfdb"/>
<rect x="1348" y="641" width="5" height="4" fill="#b2dfdb"/>
</g>
<polyline points="-3.0,710.5 3.5,704.1 9.5,701.0 15.5,698.5 21.5,692.6 27.5,689.5 34.5,687.7 40.5,687.7 46.5,694.3 52.5,687.0 58.5,680.2 65.5,675.7 71.5,672.2 77.5,671.8 83.5,667.8 90.5,656.4 96.5,645.5 102.5,634.3 108.5,628.8 114.5,625.7 121.5,632.2 127.5,641.8 133.5,643.9 139.5,646.6 145.5,651.0 152.5,654.7 158.5,651.6 164.5,652.2 170.5,648.3 176.5,645.5 183.5,638.8 189.5,631.8 195.5,632.9 201.5,633.9 207.5,640.4 214.5,643.9 220.5,643.8 226.5,643.4 232.5,642.6 239.5,640.1 245.5,638.8 251.5,638.0 257.5,634.5 263.5,631.6 270.5,637.7 276.5,644.9 282.5,651.2 288.5,654.7 294.5,661.0 301.5,669.2 307.5,676.0 313.5,676.3 319.5,677.6 325.5,678.3 332.5,682.4 338.5,689.6 344.5,693.7 350.5,702.0 356.5,703.4 363.5,700.6 369.5,698.6 375.5,691.9 381.5,681.1 388.5,667.7 394.5,655.7 400.5,641.9 406.5,632.0 412.5,625.3 419.5,623.5 425.5,626.3 431.5,623.4 437.5,619.8 443.5,613.2 450.5,612.6 456.5,612.6 462.5,610.1 468.5,610.1 474.5,612.4 481.5,614.4 487.5,612.1 493.5,619.8 499.5,624.7 505.5,627.3 512.5,627.2 518.5,626.5 524.5,619.7 530.5,606.1 537.5,591.5 543.5,578.6 549.5,573.6 555.5,571.6 561.5,571.0 568.5,574.6 574.5,569.7 580.5,566.6 586.5,562.1 592.5,564.2 599.5,568.0 605.5,562.3 611.5,556.5 617.5,553.5 623.5,552.1 630.5,555.1 636.5,559.1 642.5,563.4 648.5,566.2 654.5,568.1 661.5,565.4 667.5,565.9 673.5,569.5 679.5,569.5 686.5,571.8 692.5,574.6 698.5,578.0 704.5,583.0 710.5,588.7 717.5,592.3 723.5,596.4 729.5,603.0 735.5,613.2 741.5,617.9 748.5,629.3 754.5,632.6 760.5,633.2 766.5,630.9 772.5,629.1 779.5,621.7 785.5,620.8 791.5,618.4 797.5,623.5 803.5,625.1 810.5,624.4 816.5,631.6 822.5,632.3 828.5,631.5 835.5,635.2 841.5,632.9 847.5,632.2 853.5,629.8 859.5,631.9 866.5,632.1 872.5,626.8 878.5,621.1 884.5,616.2 890.5,613.4 897.5,611.9 903.5,616.4 909.5,620.6 915.5,619.4 921.5,621.2 928.5,623.1 934.5,623.9 940.5,623.5 946.5,616.4 952.5,616.8 959.5,616.0 965.5,619.8 971.5,623.2 977.5,618.9 984.5,622.6 990.5,616.8 996.5,612.8 1002.5,612.4 1008.5,612.5 1015.5,609.9 1021.5,608.3 1027.5,607.0 1033.5,608.5 1039.5,612.8 1046.5,614.8 1052.5,624.1 1058.5,640.0 1064.5,652.7 1070.5,662.7 1077.5,667.3 1083.5,668.0 1089.5,662.7 1095.5,658.3 1101.5,651.2 1108.5,642.9 1114.5,638.1 1120.5,633.1 1126.5,626.2 1133.5,622.7 1139.5,614.2 1145.5,608.4 1151.5,604.3 1157.5,600.3 1164.5,596.8 1170.5,600.5 1176.5,601.5 1182.5,609.1 1188.5,614.2 1195.5,616.5 1201.5,620.0 1207.5,619.8 1213.5,620.3 1219.5,620.4 1226.5,625.5 1232.5,627.5 1238.5,627.1 1244.5,630.2 1250.5,630.5 1257.5,629.0 1263.5,629.4 1269.5,625.1 1275.5,622.1 1282.5,622.3 1288.5,621.0 1294.5,617.3 1300.5,608.6 1306.5,600.3 1313.5,592.2 1319.5,577.7 1325.5,569.0 1331.5,564.0 1337.5,564.0 1344.5,564.4 1350.5,569.0" fill="none" stroke="#2196f3" stroke-width="1.1" stroke-linejoin="round"/>
<polyline points="-3.0,691.0 3.5,693.1 9.5,696.1 15.5,697.5 21.5,696.2 27.5,694.4 34.5,692.6 40.5,691.3 46.5,692.3 52.5,690.9 58.5,688.0 65.5,684.6 71.5,681.2 77.5,678.6 83.5,675.6 90.5,670.3 96.5,663.3 102.5,655.1 108.5,647.7 114.5,641.6 121.5,639.0 127.5,639.8 133.5,640.9 139.5,642.5 145.5,644.9 152.5,647.7 158.5,648.8 164.5,649.8 170.5,649.4 176.5,648.3 183.5,645.6 189.5,641.7 195.5,639.2 201.5,637.8 207.5,638.4 214.5,639.8 220.5,640.8 226.5,641.4 232.5,641.6 239.5,641.2 245.5,640.6 251.5,639.9 257.5,638.4 263.5,636.5 270.5,636.7 276.5,638.9 282.5,642.3 288.5,645.7 294.5,650.0 301.5,655.3 307.5,661.1 313.5,665.3 319.5,668.7 325.5,671.3 332.5,674.4 338.5,678.6 344.5,682.8 350.5,688.1 356.5,692.4 363.5,694.6 369.5,695.6 375.5,694.7 381.5,691.0 388.5,684.5 394.5,676.5 400.5,666.8 406.5,657.0 412.5,648.1 419.5,641.2 425.5,637.1 431.5,633.3 437.5,629.6 443.5,625.0 450.5,621.2 456.5,618.5 462.5,615.9 468.5,614.0 474.5,613.3 481.5,613.4 487.5,613.0 493.5,614.9 499.5,617.7 505.5,620.4 512.5,622.3 518.5,623.5 524.5,622.5 530.5,617.9 537.5,610.4 543.5,601.4 549.5,593.5 555.5,587.3 561.5,582.7 568.5,580.5 574.5,577.5 580.5,574.4 586.5,571.0 592.5,569.1 599.5,568.9 605.5,567.2 611.5,564.2 617.5,561.3 623.5,558.8 630.5,557.9 636.5,558.1 642.5,559.5 648.5,561.3 654.5,563.1 661.5,563.7 667.5,564.2 673.5,565.6 679.5,566.6 686.5,567.9 692.5,569.7 698.5,572.0 704.5,575.0 710.5,578.8 717.5,582.5 723.5,586.4 729.5,591.0 735.5,597.2 741.5,603.0 748.5,610.4 754.5,616.6 760.5,621.2 766.5,623.9 772.5,625.2 779.5,624.4 785.5,623.5 791.5,622.2 797.5,622.5 803.5,623.1 810.5,623.4 816.5,625.6 822.5,627.4 828.5,628.5 835.5,630.3 841.5,630.9 847.5,631.2 853.5,630.7 859.5,630.9 866.5,631.0 872.5,629.5 878.5,626.9 884.5,624.0 890.5,621.1 897.5,618.6 903.5,618.1 909.5,618.6 915.5,618.6 921.5,619.2 928.5,620.1 934.5,621.0 940.5,621.5 946.5,620.3 952.5,619.5 959.5,618.8 965.5,619.0 971.5,620.2 977.5,619.8 984.5,620.6 990.5,619.6 996.5,617.7 1002.5,616.3 1008.5,615.3 1015.5,613.8 1021.5,612.3 1027.5,610.9 1033.5,610.2 1039.5,610.8 1046.5,611.8 1052.5,615.2 1058.5,622.1 1064.5,630.7 1070.5,639.7 1077.5,647.4 1083.5,653.1 1089.5,655.7 1095.5,656.3 1101.5,655.0 1108.5,651.7 1114.5,648.0 1120.5,643.9 1126.5,639.0 1133.5,634.5 1139.5,628.9 1145.5,623.2 1151.5,618.0 1157.5,613.1 1164.5,608.6 1170.5,606.4 1176.5,605.2 1182.5,606.2 1188.5,608.4 1195.5,610.6 1201.5,613.2 1207.5,615.0 1213.5,616.4 1219.5,617.5 1226.5,619.7 1232.5,621.8 1238.5,623.2 1244.5,625.1 1250.5,626.6 1257.5,627.2 1263.5,627.7 1269.5,627.1 1275.5,625.8 1282.5,625.0 1288.5,624.0 1294.5,622.2 1300.5,618.5 1306.5,613.1 1313.5,606.9 1319.5,598.3 1325.5,589.7 1331.5,582.7 1337.5,577.7 1344.5,574.2 1350.5,573.1" fill="none" stroke="#ff6d00" stroke-width="1.1" stroke-linejoin="round"/>
</g>
<g shape-rendering="crispEdges" fill="#e0e2e5">
<rect x="0" y="532" width="1840" height="1"/>
<rect x="0" y="722" width="1840" height="1"/>
<rect x="1762" y="0" width="1" height="752"/>
<rect x="34" y="723" width="1" height="4"/>
<rect x="145" y="723" width="1" height="4"/>
<rect x="257" y="723" width="1" height="4"/>
<rect x="369" y="723" width="1" height="4"/>
<rect x="481" y="723" width="1" height="4"/>
<rect x="592" y="723" width="1" height="4"/>
<rect x="741" y="723" width="1" height="4"/>
<rect x="853" y="723" width="1" height="4"/>
<rect x="965" y="723" width="1" height="4"/>
<rect x="1077" y="723" width="1" height="4"/>
<rect x="1188" y="723" width="1" height="4"/>
<rect x="1300" y="723" width="1" height="4"/>
<rect x="1418" y="723" width="1" height="4"/>
<rect x="1530" y="723" width="1" height="4"/>
<rect x="1642" y="723" width="1" height="4"/>
<rect x="1753" y="723" width="1" height="4"/>
<rect x="1763" y="56" width="5" height="1"/>
<rect x="1763" y="124" width="5" height="1"/>
<rect x="1763" y="192" width="5" height="1"/>
<rect x="1763" y="260" width="5" height="1"/>
<rect x="1763" y="329" width="5" height="1"/>
<rect x="1763" y="397" width="5" height="1"/>
<rect x="1763" y="465" width="5" height="1"/>
<rect x="1763" y="586" width="5" height="1"/>
<rect x="1763" y="644" width="5" height="1"/>
<rect x="1763" y="703" width="5" height="1"/>
</g>
<text x="1773.5" y="62.0" font-size="16.5" fill="#131722" >4880.00</text>
<text x="1773.5" y="130.0" font-size="16.5" fill="#131722" >4840.00</text>
<text x="1773.5" y="198.0" font-size="16.5" fill="#131722" >4800.00</text>
<text x="1773.5" y="266.0" font-size="16.5" fill="#131722" >4760.00</text>
<text x="1773.5" y="335.0" font-size="16.5" fill="#131722" >4720.00</text>
<text x="1773.5" y="403.0" font-size="16.5" fill="#131722" >4680.00</text>
<text x="1773.5" y="471.0" font-size="16.5" fill="#131722" >4640.00</text>
<text x="1773.5" y="592.0" font-size="16.5" fill="#131722" >20.00</text>
<text x="1773.5" y="650.0" font-size="16.5" fill="#131722" >0.00</text>
<text x="1773.5" y="709.0" font-size="16.5" fill="#131722" >−20.00</text>
<rect x="1762" y="210.0" width="78" height="25" fill="#4caf50" shape-rendering="crispEdges"/>
<rect x="1762" y="222.0" width="5" height="1" fill="#fff" fill-opacity="0.85" shape-rendering="crispEdges"/>
<text x="1775" y="229.0" font-size="16.5" fill="#fff" stroke="#fff" stroke-width="0.6">4782.64</text>
<rect x="1762" y="299.0" width="78" height="25" fill="#4caf50" shape-rendering="crispEdges"/>
<rect x="1762" y="311.0" width="5" height="1" fill="#fff" fill-opacity="0.85" shape-rendering="crispEdges"/>
<text x="1775" y="318.0" font-size="16.5" fill="#fff" stroke="#fff" stroke-width="0.6">4730.33</text>
<rect x="1762" y="399.0" width="78" height="25" fill="#4caf50" shape-rendering="crispEdges"/>
<rect x="1762" y="411.0" width="5" height="1" fill="#fff" fill-opacity="0.85" shape-rendering="crispEdges"/>
<text x="1775" y="418.0" font-size="16.5" fill="#fff" stroke="#fff" stroke-width="0.6">4671.66</text>
<rect x="1762" y="89.0" width="78" height="25" fill="#ef5350" shape-rendering="crispEdges"/>
<rect x="1762" y="101.0" width="5" height="1" fill="#fff" fill-opacity="0.85" shape-rendering="crispEdges"/>
<text x="1775" y="108.0" font-size="16.5" fill="#fff" stroke="#fff" stroke-width="0.6">4853.87</text>
<path d="M1697 89h64v25h-64a3 3 0 0 1-3-3v-19a3 3 0 0 1 3-3z" fill="#ef5350"/>
<text x="1699.5" y="108" font-size="16.5" fill="#fff" stroke="#fff" stroke-width="0.6">Euro50</text>
<text x="34.5" y="746" font-size="16.5" fill="#131722" text-anchor="middle">5</text>
<text x="145.5" y="746" font-size="16.5" fill="#131722" text-anchor="middle">10</text>
<text x="257.5" y="746" font-size="16.5" fill="#131722" text-anchor="middle">15</text>
<text x="369.5" y="746" font-size="16.5" fill="#131722" text-anchor="middle">18</text>
<text x="481.5" y="746" font-size="16.5" fill="#131722" text-anchor="middle">23</text>
<text x="592.5" y="746" font-size="16.5" fill="#131722" text-anchor="middle">26</text>
<text x="741.5" y="746" font-size="16.5" fill="#131722" text-anchor="middle" stroke="#131722" stroke-width="0.45">Févr</text>
<text x="853.5" y="746" font-size="16.5" fill="#131722" text-anchor="middle">6</text>
<text x="965.5" y="746" font-size="16.5" fill="#131722" text-anchor="middle">9</text>
<text x="1077.5" y="746" font-size="16.5" fill="#131722" text-anchor="middle">14</text>
<text x="1188.5" y="746" font-size="16.5" fill="#131722" text-anchor="middle">19</text>
<text x="1300.5" y="746" font-size="16.5" fill="#131722" text-anchor="middle">22</text>
<text x="1418.5" y="746" font-size="16.5" fill="#131722" text-anchor="middle">27</text>
<text x="1530.5" y="746" font-size="16.5" fill="#131722" text-anchor="middle" stroke="#131722" stroke-width="0.45">Mars</text>
<text x="1642.5" y="746" font-size="16.5" fill="#131722" text-anchor="middle">6</text>
<text x="1761.5" y="746" font-size="16.5" fill="#131722" text-anchor="end">11</text>
<g stroke="#131722" stroke-width="1.2" fill="none"><circle cx="1804.5" cy="741.5" r="5"/>
<line x1="1809.70" y1="741.50" x2="1812.10" y2="741.50"/>
<line x1="1808.18" y1="745.18" x2="1809.87" y2="746.87"/>
<line x1="1804.50" y1="746.70" x2="1804.50" y2="749.10"/>
<line x1="1800.82" y1="745.18" x2="1799.13" y2="746.87"/>
<line x1="1799.30" y1="741.50" x2="1796.90" y2="741.50"/>
<line x1="1800.82" y1="737.82" x2="1799.13" y2="736.13"/>
<line x1="1804.50" y1="736.30" x2="1804.50" y2="733.90"/>
<line x1="1808.18" y1="737.82" x2="1809.87" y2="736.13"/>
</g>
<rect x="0" y="1" width="468" height="24" fill="#fff" fill-opacity="0.5" shape-rendering="crispEdges"/>
<rect x="0" y="25" width="177" height="45" fill="#fff" fill-opacity="0.5" shape-rendering="crispEdges"/>
<rect x="0" y="70" width="143" height="25" fill="#fff" fill-opacity="0.5" shape-rendering="crispEdges"/>
<rect x="0" y="95" width="149" height="25" fill="#fff" fill-opacity="0.5" shape-rendering="crispEdges"/>
<text x="6" y="19" font-size="15.2" fill="#131722">Euro50</text><text x="59" y="19" font-size="15.4" fill="#9598a1">·</text><text x="66.5" y="19" font-size="15.4" fill="#131722">4h</text>
<circle cx="108" cy="13" r="9" fill="#089981" fill-opacity="0.16"/><circle cx="108" cy="13" r="4.2" fill="#089981"/>
<text x="133" y="18.5" font-size="12.97" fill="#ef5350"><tspan fill="#5d606b">O</tspan>4862.75 <tspan fill="#5d606b">H</tspan>4862.94 <tspan fill="#5d606b">B</tspan>4849.74 <tspan fill="#5d606b">C</tspan>4853.87 −9.58 (−0.20%)</text>
<rect x="5.5" y="29.5" width="61" height="37" rx="4" fill="#fff" stroke="#ef5350"/>
<text x="36" y="53" font-size="12.8" fill="#ef5350" text-anchor="middle">4853.87</text>
<rect x="111.5" y="29.5" width="61" height="37" rx="4" fill="#fff" stroke="#22ab94"/>
<text x="142" y="53" font-size="12.8" fill="#22ab94" text-anchor="middle">4855.03</text>
<text x="89" y="40" font-size="10.9" fill="#50535e" text-anchor="middle">1.16</text>
<rect x="71" y="45" width="36" height="22" rx="3" fill="#f7f8fc"/>
<text x="89" y="59.8" font-size="12" fill="#131722" text-anchor="middle">200</text>
<text x="6" y="88" font-size="12.3" fill="#131722">EMA 8 close 0</text><text x="92.6" y="88" font-size="12.7" fill="#e91e63">4846.79</text>
<text x="6" y="112" font-size="12.3" fill="#131722">EMA 13 close 0</text><text x="99.6" y="112" font-size="12.7" fill="#9c27b0">4832.19</text>
<rect x="6.5" y="121.5" width="28" height="20" rx="3" fill="#fff" stroke="#cfd2e0"/>
<path d="M16.5 133.5l4-4 4 4" fill="none" stroke="#131722" stroke-width="1.4"/>
<text x="6" y="554" font-size="12.3" fill="#131722">MACD 9 19 close 6</text>
<text y="554" font-size="12.7"><tspan x="120" fill="#b2dfdb">1.36</tspan><tspan x="150.3" fill="#2196f3">25.90</tspan><tspan x="188" fill="#ff6d00">24.55</tspan></text>
</svg>
</body></html>
